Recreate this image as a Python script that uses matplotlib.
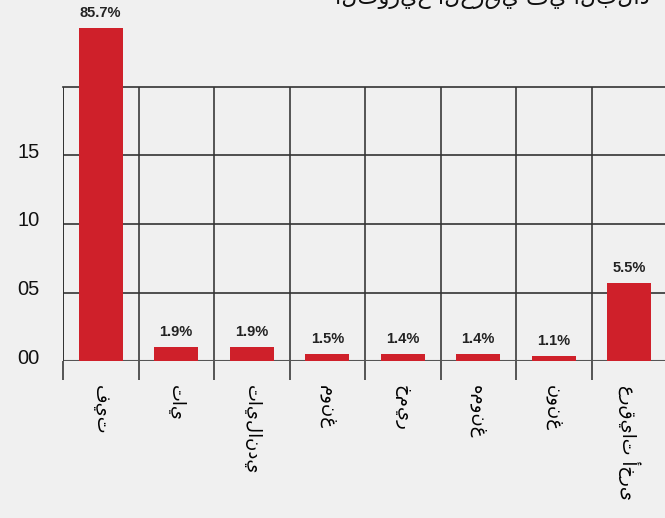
import matplotlib.pyplot as plt
import matplotlib.transforms as mtransforms
import numpy as np

# categories (arabic ethnic groups) and their shares
categories = ['فيت', 'تاي', 'تايلاندي', 'مونغ', 'خمير', 'همونغ', 'نونغ', 'عرقيات أخرى']
shares = [85.7, 1.9, 1.9, 1.5, 1.4, 1.4, 1.1, 5.5]
# bar heights as drawn on the (odd) axis scale of the picture
bar_heights = [24.3, 1.0, 1.0, 0.5, 0.5, 0.5, 0.37, 5.7]
ytick_values = [0, 5, 10, 15]
ytick_labels = ['00', '05', '10', '15']
title = 'التوزيع العرقي في البلاد'

bg = '#f0f0f0'
red = '#cf202a'

fig = plt.figure(figsize=(6.65, 5.18), dpi=100)
fig.patch.set_facecolor(bg)
ax = fig.add_axes([63 / 665, 1 - 361 / 518, 604 / 665, 274 / 518])
ax.set_facecolor(bg)

n = len(categories)
ind = np.arange(n)
ax.bar(ind, bar_heights, 0.58, color=red, zorder=3, clip_on=False)

for i, (h, s) in enumerate(zip(bar_heights, shares)):
    ax.annotate('%.1f%%' % s, (i, h), xytext=(0, 6), textcoords='offset points',
                ha='center', va='bottom', fontsize=10.5, fontweight='bold',
                color='#222222', family='Liberation Sans', annotation_clip=False)

ax.set_xlim(-0.5, n - 0.5)
ax.set_ylim(0, 20)

# horizontal grid
ax.set_yticks(ytick_values)
ax.set_yticklabels(ytick_labels, fontsize=14.5, family='Liberation Sans', color='#111111')
ax.tick_params(axis='y', length=0, pad=17)
shift = mtransforms.ScaledTranslation(0, 5 / 100, fig.dpi_scale_trans)
for lab in ax.get_yticklabels():
    lab.set_transform(lab.get_transform() + shift)
ax.yaxis.grid(True, color='#333333', linewidth=1.2, zorder=1)

# vertical lines at category boundaries, extending below as ticks
bounds = np.arange(n + 1) - 0.5
ax.set_xticks(bounds, minor=True)
ax.xaxis.grid(True, which='minor', color='#2a2a2a', linewidth=1.1, zorder=1)
ax.tick_params(axis='x', which='minor', length=14, width=1.1, color='#2a2a2a')
ax.set_xticks(ind)
ax.set_xticklabels(categories, rotation=-90, fontsize=13, family='DejaVu Sans',
                   va='top', ha='center')
ax.tick_params(axis='x', which='major', length=0, pad=17)

for side in ['right', 'bottom', 'left']:
    ax.spines[side].set_visible(False)
ax.spines['top'].set_color('#333333')
ax.spines['top'].set_linewidth(1.2)
ax.axhline(0, color='#555555', linewidth=1.5, zorder=2)
ax.plot([-0.5, -0.5], [0, 20], color='#2a2a2a', linewidth=1.1, zorder=2)

fig.text(0.74, 1 - 4 / 518, title, ha='center', va='baseline', fontsize=16,
         family='DejaVu Sans', color='#111111')

fig.savefig('out.png', dpi=100, facecolor=bg)
